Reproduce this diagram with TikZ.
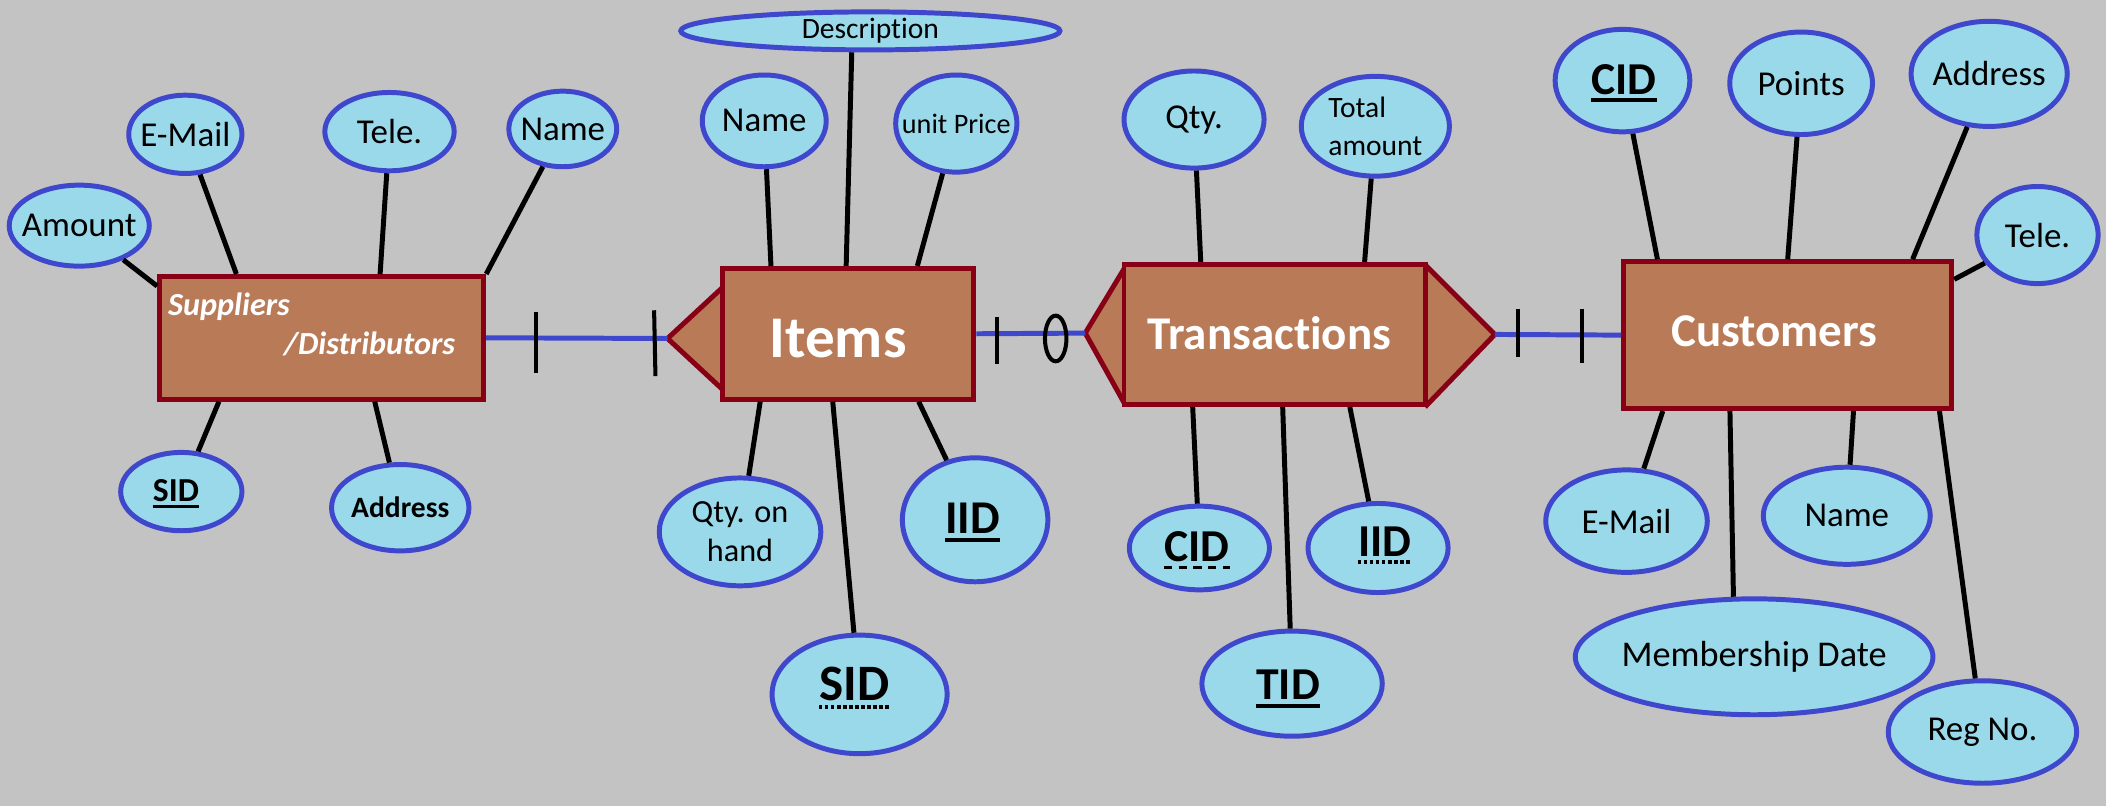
\documentclass[tikz,border=0pt]{standalone}
\usepackage{fontspec}
\setmainfont{Carlito}[Ligatures=NoCommon, RawFeature={-clig;-dlig;-calt;-hlig}]
\usetikzlibrary{shapes.geometric}
\definecolor{bgG}{HTML}{C3C3C3}
\definecolor{attrF}{HTML}{99D9EA}
\definecolor{attrB}{HTML}{3F48CC}
\definecolor{entF}{HTML}{B97A57}
\definecolor{entB}{HTML}{880015}
\newcommand{\zw}[1]{\makebox[0pt]{#1}}
\newcommand{\fsz}[1]{\fontsize{#1}{#1}\selectfont}
\begin{document}
\begin{tikzpicture}[x=1pt,y=-1pt,
  attr/.style 2 args={ellipse, draw=attrB, fill=attrF, line width=3.7pt, inner sep=0pt, minimum width=#1-0.7, minimum height=#2-0.7, font=\fsz{26}},
  ent/.style 2 args={rectangle, draw=entB, fill=entF, line width=3.7pt, inner sep=0pt, minimum width=#1-0.2, minimum height=#2-0.2},
  entshape/.style={draw=entB, fill=entF, line width=3.7pt, line join=miter},
  enttxt/.style={text=white, font=\bfseries\fsz{#1}, inner sep=0pt},
  suptxt/.style={text=white, font=\bfseries\itshape\fsz{24}, inner sep=0pt},
  keytxt/.style={font=\bfseries\fsz{#1}, inner sep=0pt},
  conn/.style={draw=black, line width=3.7pt},
  rel/.style={draw=attrB, line width=3.7pt},
  tickmark/.style={draw=black, line width=3pt},
  ulsolid/.style={draw=black, line width=2.8pt},
  uldash/.style={draw=black, line width=2.8pt, dash pattern=on 6pt off 5pt},
  uldot/.style={draw=black, line width=2.8pt, dash pattern=on 2.5pt off 2pt},
]
\fill[bgG] (0,0) rectangle (1568,600);
\useasboundingbox (0,0) rectangle (1568,600);

% ---------- Suppliers/Distributors ----------
\node[ent={241.5}{91.5}] (sup) at (239.5,251.5) {};
\node[suptxt, anchor=base west] (supA) at (125,235) {Suppliers};
\node[suptxt, anchor=base east] (supB) at (339,264) {/Distributors};

\node[attr={105}{61}] (sAmount) at (59,168) {\zw{Amount}};
\node[attr={85}{59}] (sEmail) at (138,100) {\zw{E-Mail}};
\node[attr={97}{59}] (sTele) at (290,98) {\zw{Tele.}};
\node[attr={81}{57}] (sName) at (419,96) {\zw{Name}};
\node[attr={91}{59}] (sSID) at (135,366) {};
\node[keytxt=25] (sSIDt) at (131,365) {SID};
\node[attr={103}{65}] (sAddr) at (298,378) {\zw{\bfseries\fsz{22}Address}};

\draw[conn] (sAmount) -- ([yshift=-9]sup.north west);
\draw[conn] (sEmail) -- ([xshift=59]sup.north west);
\draw[conn] (sTele) -- ([xshift=166]sup.north west);
\draw[conn] (sName) -- (sup.north east);
\draw[conn] (sSID) -- ([xshift=46]sup.south west);
\draw[conn] (sAddr) -- ([xshift=162]sup.south west);
\draw[ulsolid] ([yshift=-4]sSIDt.base west) -- ([yshift=-4]sSIDt.base east);

% ---------- Items ----------
\coordinate (itip) at (497,252);
\filldraw[entshape] (538,214) -- (itip) -- (538,290);
\node[ent={187.5}{97.5}] (items) at (631.5,248.5) {};
\node[enttxt=44] (itemsT) at (624,252) {Items};

\node[attr={283}{29}, font=\fsz{22}] (iDesc) at (648,23) {\zw{Description}};
\node[attr={93}{69}] (iName) at (569,90) {\zw{Name}};
\node[attr={91}{73}, font=\fsz{21}] (iPrice) at (712,92) {\zw{unit Price}};
\node[attr={121}{81}, font=\fontsize{24}{29}\selectfont, align=center] (iQty) at (551,396) {Qty. on\\hand};
\node[attr={109}{93}] (iIID) at (726,387) {};
\node[keytxt=35] (iIIDt) at (724,386) {IID};
\node[attr={131}{89}] (iSID) at (640,517) {};
\node[keytxt=38] (iSIDt) at (636,509) {SID};

\draw[conn] (iName) -- ([xshift=38]items.north west);
\draw[conn] (iDesc.229) -- ([xshift=94]items.north west);
\draw[conn] (iPrice) -- ([xshift=147]items.north west);
\draw[conn] (iQty) -- ([xshift=30]items.south west);
\draw[conn] (iSID) -- ([xshift=84]items.south west);
\draw[conn] (iIID) -- ([xshift=148]items.south west);
\draw[ulsolid] ([yshift=-4.5]iIIDt.base west) -- ([yshift=-4.5]iIIDt.base east);
\draw[uldot] ([yshift=-5]iSIDt.base west) -- ([yshift=-5]iSIDt.base east);

% ---------- Transactions ----------
\coordinate (ttipL) at (808,248);
\coordinate (ttipR) at (1113,249);
\filldraw[entshape] (837,200) -- (ttipL) -- (837,300);
\filldraw[entshape] (1061,197) -- (ttipR) -- (1061,303);
\node[ent={224.5}{104.5}] (trans) at (949,249) {};
\node[enttxt=35] (transT) at (945,248) {Transactions};

\node[attr={105}{73}] (tQty) at (889,89) {\zw{Qty.}};
\node[attr={111}{75}, font=\fontsize{22}{28}\selectfont, align=left] (tTot) at (1024,94) {Total\\amount};
\node[attr={105}{63}] (tCID) at (893,408) {};
\node[keytxt=34] (tCIDt) at (891,407) {CID};
\node[attr={105}{67}] (tIID) at (1026,408) {};
\node[keytxt=34] (tIIDt) at (1031,403) {IID};
\node[attr={135}{79}] (tTID) at (962,509) {};
\node[keytxt=34] (tTIDt) at (959,510) {TID};

\draw[conn] (tQty) -- ([xshift=59]trans.north west);
\draw[conn] (tTot) -- ([xshift=181]trans.north west);
\draw[conn] (tCID) -- ([xshift=53]trans.south west);
\draw[conn] (tTID) -- ([xshift=120]trans.south west);
\draw[conn] (tIID) -- ([xshift=170]trans.south west);
\draw[uldash] ([yshift=-4.5]tCIDt.base west) -- ([yshift=-4.5]tCIDt.base east);
\draw[uldot] ([yshift=-4.5]tIIDt.base west) -- ([yshift=-4.5]tIIDt.base east);
\draw[ulsolid] ([yshift=-4.5]tTIDt.base west) -- ([yshift=-4.5]tTIDt.base east);

% ---------- Customers ----------
\node[ent={244.5}{109.5}] (cust) at (1331,249.5) {};
\node[enttxt=35] (custT) at (1321,247) {Customers};

\node[attr={101}{77}] (cCID) at (1208,60) {};
\node[keytxt=34] (cCIDt) at (1209,59) {CID};
\node[attr={107}{77}] (cPoints) at (1341,62) {\zw{Points}};
\node[attr={117}{79}] (cAddr) at (1481,55) {\zw{Address}};
\node[attr={91}{73}] (cTele) at (1517,175) {\zw{Tele.}};
\node[attr={121}{77}] (cEmail) at (1211,388) {\zw{E-Mail}};
\node[attr={125}{73}] (cName) at (1375,384) {\zw{Name}};
\node[attr={267}{87}, font=\fsz{27}] (cMemb) at (1306,489) {\zw{Membership Date}};
\node[attr={141}{77}] (cReg) at (1476,545) {\zw{Reg No.}};

\draw[conn] (cCID) -- ([xshift=27]cust.north west);
\draw[conn] (cPoints) -- ([xshift=124]cust.north west);
\draw[conn] (cAddr) -- ([xshift=217]cust.north west);
\draw[conn] (cTele) -- ([yshift=-15]cust.north east);
\draw[conn] (cEmail) -- ([xshift=31]cust.south west);
\draw[conn] (cMemb.109) -- ([xshift=81]cust.south west);
\draw[conn] (cName) -- ([xshift=173]cust.south west);
\draw[conn] (cReg) -- ([xshift=237]cust.south west);
\draw[ulsolid] ([yshift=-4.5]cCIDt.base west) -- ([yshift=-4.5]cCIDt.base east);

% ---------- Relationships ----------
\draw[rel] (sup.east) -- (itip);
\draw[rel] (items.east) -- (ttipL);
\draw[rel] (ttipR) -- (cust.west);
\draw[tickmark] (399,232) -- (399,278);
\draw[tickmark] (487,231) -- (488,280);
\draw[tickmark] (742,236) -- (742,271);
\draw[tickmark] (786,252) ellipse [x radius=8, y radius=17];
\draw[tickmark] (1130,230) -- (1130,266);
\draw[tickmark] (1178,230) -- (1178,270);
\end{tikzpicture}
\end{document}
